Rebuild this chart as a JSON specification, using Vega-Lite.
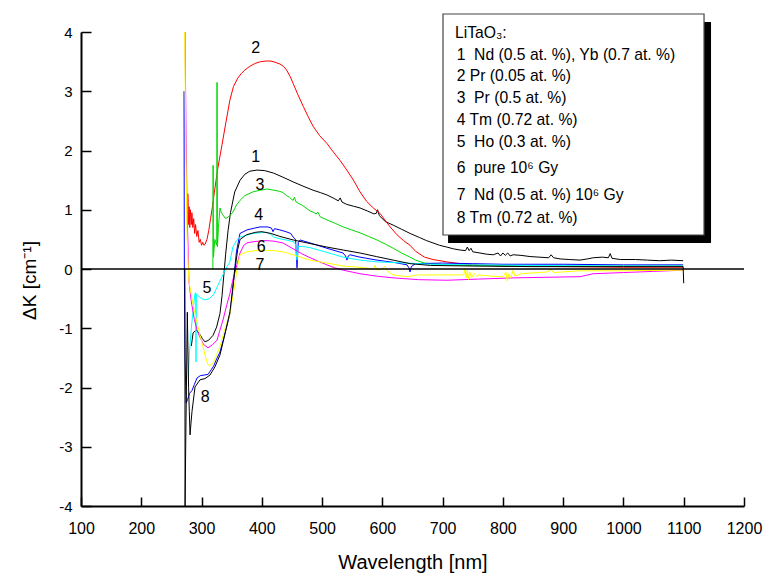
{
 "$schema": "https://vega.github.io/schema/vega-lite/v6.json",
 "width": 663, "height": 474,
 "autosize": {"type": "none"},
 "padding": {"left": 81, "top": 32, "right": 19, "bottom": 68},
 "background": "white",
 "config": {"view": {"stroke": null}, "font": "Liberation Sans"},
 "datasets": {
  "curves": [
   {"s":"1","wl":283,"dk":-1.3},{"s":"1","wl":286,"dk":-1.08},{"s":"1","wl":290.8,"dk":-1.03},{"s":"1","wl":296,"dk":-1.08},{"s":"1","wl":301,"dk":-1.17},{"s":"1","wl":305.7,"dk":-1.23},{"s":"1","wl":312,"dk":-1.2},{"s":"1","wl":319,"dk":-1.12},{"s":"1","wl":325,"dk":-0.98},{"s":"1","wl":330.6,"dk":-0.75},{"s":"1","wl":334,"dk":-0.45},{"s":"1","wl":337,"dk":-0.1},{"s":"1","wl":340,"dk":0.25},{"s":"1","wl":344,"dk":0.65},{"s":"1","wl":348,"dk":0.95},{"s":"1","wl":355,"dk":1.3},{"s":"1","wl":364,"dk":1.5},{"s":"1","wl":372,"dk":1.6},{"s":"1","wl":380,"dk":1.65},{"s":"1","wl":392,"dk":1.67},{"s":"1","wl":405,"dk":1.66},{"s":"1","wl":419,"dk":1.62},{"s":"1","wl":435,"dk":1.55},{"s":"1","wl":452,"dk":1.47},{"s":"1","wl":468,"dk":1.4},{"s":"1","wl":485,"dk":1.33},{"s":"1","wl":497,"dk":1.29},{"s":"1","wl":508,"dk":1.25},{"s":"1","wl":520,"dk":1.19},{"s":"1","wl":527,"dk":1.15},{"s":"1","wl":530,"dk":1.2},{"s":"1","wl":533,"dk":1.13},{"s":"1","wl":541,"dk":1.09},{"s":"1","wl":552,"dk":1.06},{"s":"1","wl":563,"dk":1.03},{"s":"1","wl":575,"dk":0.98},{"s":"1","wl":586,"dk":0.93},{"s":"1","wl":590,"dk":0.94},{"s":"1","wl":592,"dk":1.0},{"s":"1","wl":595,"dk":0.9},{"s":"1","wl":605,"dk":0.8},{"s":"1","wl":618,"dk":0.74},{"s":"1","wl":632,"dk":0.67},{"s":"1","wl":646,"dk":0.6},{"s":"1","wl":662,"dk":0.53},{"s":"1","wl":673,"dk":0.48},{"s":"1","wl":684,"dk":0.44},{"s":"1","wl":695,"dk":0.4},{"s":"1","wl":707,"dk":0.37},{"s":"1","wl":718,"dk":0.34},{"s":"1","wl":729,"dk":0.32},{"s":"1","wl":738,"dk":0.31},{"s":"1","wl":741,"dk":0.37},{"s":"1","wl":744,"dk":0.31},{"s":"1","wl":747,"dk":0.35},{"s":"1","wl":750,"dk":0.29},{"s":"1","wl":762,"dk":0.27},{"s":"1","wl":773,"dk":0.25},{"s":"1","wl":784,"dk":0.24},{"s":"1","wl":792,"dk":0.27},{"s":"1","wl":796,"dk":0.22},{"s":"1","wl":800,"dk":0.27},{"s":"1","wl":804,"dk":0.23},{"s":"1","wl":808,"dk":0.27},{"s":"1","wl":812,"dk":0.22},{"s":"1","wl":817,"dk":0.24},{"s":"1","wl":830,"dk":0.23},{"s":"1","wl":845,"dk":0.21},{"s":"1","wl":860,"dk":0.2},{"s":"1","wl":876,"dk":0.19},{"s":"1","wl":880,"dk":0.24},{"s":"1","wl":884,"dk":0.19},{"s":"1","wl":895,"dk":0.17},{"s":"1","wl":910,"dk":0.16},{"s":"1","wl":928,"dk":0.15},{"s":"1","wl":940,"dk":0.17},{"s":"1","wl":950,"dk":0.19},{"s":"1","wl":965,"dk":0.2},{"s":"1","wl":975,"dk":0.19},{"s":"1","wl":978,"dk":0.26},{"s":"1","wl":981,"dk":0.18},{"s":"1","wl":995,"dk":0.16},{"s":"1","wl":1020,"dk":0.16},{"s":"1","wl":1040,"dk":0.15},{"s":"1","wl":1060,"dk":0.14},{"s":"1","wl":1080,"dk":0.15},{"s":"1","wl":1099,"dk":0.14},

   {"s":"2","wl":277.5,"dk":1.27},{"s":"2","wl":278.5,"dk":0.75},{"s":"2","wl":279.5,"dk":1.05},{"s":"2","wl":280.5,"dk":0.7},{"s":"2","wl":281.5,"dk":1.0},{"s":"2","wl":283,"dk":0.75},{"s":"2","wl":284,"dk":0.95},{"s":"2","wl":285.5,"dk":0.7},{"s":"2","wl":287,"dk":0.85},{"s":"2","wl":288.5,"dk":0.6},{"s":"2","wl":290,"dk":0.75},{"s":"2","wl":292,"dk":0.55},{"s":"2","wl":294,"dk":0.65},{"s":"2","wl":296,"dk":0.45},{"s":"2","wl":298,"dk":0.5},{"s":"2","wl":300,"dk":0.4},{"s":"2","wl":302,"dk":0.45},{"s":"2","wl":304,"dk":0.4},{"s":"2","wl":306,"dk":0.42},{"s":"2","wl":309,"dk":0.5},{"s":"2","wl":312,"dk":0.65},{"s":"2","wl":315,"dk":0.85},{"s":"2","wl":318,"dk":1.05},{"s":"2","wl":322,"dk":1.35},{"s":"2","wl":327,"dk":1.7},{"s":"2","wl":334,"dk":2.1},{"s":"2","wl":340,"dk":2.45},{"s":"2","wl":347,"dk":2.85},{"s":"2","wl":353,"dk":3.08},{"s":"2","wl":360,"dk":3.22},{"s":"2","wl":366,"dk":3.3},{"s":"2","wl":372,"dk":3.36},{"s":"2","wl":380,"dk":3.42},{"s":"2","wl":389,"dk":3.47},{"s":"2","wl":398,"dk":3.5},{"s":"2","wl":407,"dk":3.51},{"s":"2","wl":415,"dk":3.51},{"s":"2","wl":422,"dk":3.49},{"s":"2","wl":430,"dk":3.46},{"s":"2","wl":436,"dk":3.42},{"s":"2","wl":441,"dk":3.36},{"s":"2","wl":447,"dk":3.25},{"s":"2","wl":452,"dk":3.13},{"s":"2","wl":460,"dk":2.94},{"s":"2","wl":469,"dk":2.74},{"s":"2","wl":477,"dk":2.57},{"s":"2","wl":485,"dk":2.41},{"s":"2","wl":496,"dk":2.25},{"s":"2","wl":508,"dk":2.12},{"s":"2","wl":516,"dk":2.01},{"s":"2","wl":530,"dk":1.83},{"s":"2","wl":541,"dk":1.67},{"s":"2","wl":552,"dk":1.5},{"s":"2","wl":563,"dk":1.3},{"s":"2","wl":574,"dk":1.14},{"s":"2","wl":585,"dk":1.03},{"s":"2","wl":596,"dk":0.94},{"s":"2","wl":604,"dk":0.83},{"s":"2","wl":613,"dk":0.71},{"s":"2","wl":624,"dk":0.58},{"s":"2","wl":635,"dk":0.48},{"s":"2","wl":646,"dk":0.4},{"s":"2","wl":655,"dk":0.3},{"s":"2","wl":670,"dk":0.2},{"s":"2","wl":684,"dk":0.16},{"s":"2","wl":707,"dk":0.12},{"s":"2","wl":729,"dk":0.09},{"s":"2","wl":750,"dk":0.07},{"s":"2","wl":800,"dk":0.05},{"s":"2","wl":900,"dk":0.04},{"s":"2","wl":1000,"dk":0.03},{"s":"2","wl":1099,"dk":0.03},

   {"s":"3","wl":318.8,"dk":0.0},{"s":"3","wl":319.2,"dk":1.75},{"s":"3","wl":319.8,"dk":0.2},{"s":"3","wl":322,"dk":0.5},{"s":"3","wl":325.2,"dk":0.4},{"s":"3","wl":325.7,"dk":3.15},{"s":"3","wl":326.4,"dk":0.37},{"s":"3","wl":328,"dk":0.7},{"s":"3","wl":330.6,"dk":1.03},{"s":"3","wl":333,"dk":0.95},{"s":"3","wl":335.6,"dk":0.91},{"s":"3","wl":339,"dk":0.86},{"s":"3","wl":342,"dk":0.86},{"s":"3","wl":347,"dk":0.9},{"s":"3","wl":352,"dk":0.96},{"s":"3","wl":358,"dk":1.08},{"s":"3","wl":364,"dk":1.16},{"s":"3","wl":372,"dk":1.24},{"s":"3","wl":385,"dk":1.3},{"s":"3","wl":397,"dk":1.33},{"s":"3","wl":409,"dk":1.35},{"s":"3","wl":420,"dk":1.33},{"s":"3","wl":430,"dk":1.31},{"s":"3","wl":435,"dk":1.29},{"s":"3","wl":441,"dk":1.24},{"s":"3","wl":446,"dk":1.21},{"s":"3","wl":450,"dk":1.17},{"s":"3","wl":452,"dk":1.16},{"s":"3","wl":454,"dk":1.21},{"s":"3","wl":457,"dk":1.13},{"s":"3","wl":468,"dk":1.07},{"s":"3","wl":480,"dk":0.98},{"s":"3","wl":485,"dk":0.96},{"s":"3","wl":490,"dk":0.93},{"s":"3","wl":493,"dk":0.96},{"s":"3","wl":497,"dk":0.88},{"s":"3","wl":510,"dk":0.82},{"s":"3","wl":522,"dk":0.77},{"s":"3","wl":535,"dk":0.71},{"s":"3","wl":549,"dk":0.66},{"s":"3","wl":563,"dk":0.61},{"s":"3","wl":577,"dk":0.55},{"s":"3","wl":591,"dk":0.49},{"s":"3","wl":605,"dk":0.42},{"s":"3","wl":618,"dk":0.35},{"s":"3","wl":632,"dk":0.27},{"s":"3","wl":646,"dk":0.2},{"s":"3","wl":655,"dk":0.15},{"s":"3","wl":670,"dk":0.1},{"s":"3","wl":707,"dk":0.07},{"s":"3","wl":750,"dk":0.06},{"s":"3","wl":850,"dk":0.05},{"s":"3","wl":1000,"dk":0.05},{"s":"3","wl":1099,"dk":0.05},

   {"s":"4","wl":270.9,"dk":3.0},{"s":"4","wl":271.5,"dk":0.0},{"s":"4","wl":272.6,"dk":-1.5},{"s":"4","wl":274.5,"dk":-2.26},{"s":"4","wl":277,"dk":-2.2},{"s":"4","wl":280,"dk":-2.1},{"s":"4","wl":284.2,"dk":-2.05},{"s":"4","wl":288,"dk":-1.95},{"s":"4","wl":292.5,"dk":-1.84},{"s":"4","wl":298,"dk":-1.8},{"s":"4","wl":304,"dk":-1.79},{"s":"4","wl":310.7,"dk":-1.78},{"s":"4","wl":316,"dk":-1.7},{"s":"4","wl":320,"dk":-1.64},{"s":"4","wl":325,"dk":-1.52},{"s":"4","wl":330.6,"dk":-1.4},{"s":"4","wl":336,"dk":-1.2},{"s":"4","wl":341,"dk":-1.0},{"s":"4","wl":347.2,"dk":-0.75},{"s":"4","wl":351,"dk":-0.4},{"s":"4","wl":355,"dk":0.0},{"s":"4","wl":358,"dk":0.3},{"s":"4","wl":363.8,"dk":0.6},{"s":"4","wl":375.4,"dk":0.66},{"s":"4","wl":388,"dk":0.69},{"s":"4","wl":397,"dk":0.71},{"s":"4","wl":410,"dk":0.71},{"s":"4","wl":416,"dk":0.69},{"s":"4","wl":418.6,"dk":0.63},{"s":"4","wl":421,"dk":0.68},{"s":"4","wl":430,"dk":0.66},{"s":"4","wl":440,"dk":0.63},{"s":"4","wl":448,"dk":0.6},{"s":"4","wl":451.8,"dk":0.54},{"s":"4","wl":456,"dk":0.5},{"s":"4","wl":458.4,"dk":0.02},{"s":"4","wl":460.5,"dk":0.45},{"s":"4","wl":463.4,"dk":0.49},{"s":"4","wl":480,"dk":0.44},{"s":"4","wl":508,"dk":0.35},{"s":"4","wl":534.7,"dk":0.27},{"s":"4","wl":539,"dk":0.22},{"s":"4","wl":541.3,"dk":0.15},{"s":"4","wl":543.5,"dk":0.22},{"s":"4","wl":546.3,"dk":0.24},{"s":"4","wl":562.9,"dk":0.2},{"s":"4","wl":591.1,"dk":0.15},{"s":"4","wl":620,"dk":0.11},{"s":"4","wl":640.9,"dk":0.07},{"s":"4","wl":644,"dk":0.02},{"s":"4","wl":645.9,"dk":-0.05},{"s":"4","wl":648,"dk":0.04},{"s":"4","wl":655,"dk":0.09},{"s":"4","wl":700,"dk":0.1},{"s":"4","wl":750,"dk":0.09},{"s":"4","wl":800,"dk":0.08},{"s":"4","wl":900,"dk":0.08},{"s":"4","wl":1000,"dk":0.07},{"s":"4","wl":1099,"dk":0.07},

   {"s":"5","wl":278,"dk":-1.84},{"s":"5","wl":280,"dk":-1.4},{"s":"5","wl":283,"dk":-1.0},{"s":"5","wl":286,"dk":-0.7},{"s":"5","wl":289,"dk":-0.42},{"s":"5","wl":290.3,"dk":-0.4},{"s":"5","wl":290.8,"dk":-1.57},{"s":"5","wl":291.4,"dk":-0.42},{"s":"5","wl":294,"dk":-0.45},{"s":"5","wl":300,"dk":-0.5},{"s":"5","wl":306,"dk":-0.52},{"s":"5","wl":313,"dk":-0.5},{"s":"5","wl":320,"dk":-0.43},{"s":"5","wl":326,"dk":-0.3},{"s":"5","wl":333,"dk":-0.15},{"s":"5","wl":340,"dk":0.0},{"s":"5","wl":347,"dk":0.12},{"s":"5","wl":352,"dk":0.37},{"s":"5","wl":358,"dk":0.48},{"s":"5","wl":364,"dk":0.54},{"s":"5","wl":385,"dk":0.6},{"s":"5","wl":408,"dk":0.62},{"s":"5","wl":416,"dk":0.58},{"s":"5","wl":419,"dk":0.54},{"s":"5","wl":430,"dk":0.51},{"s":"5","wl":445,"dk":0.48},{"s":"5","wl":452,"dk":0.46},{"s":"5","wl":456,"dk":0.42},{"s":"5","wl":458.4,"dk":0.15},{"s":"5","wl":460,"dk":0.38},{"s":"5","wl":468,"dk":0.38},{"s":"5","wl":480,"dk":0.36},{"s":"5","wl":508,"dk":0.28},{"s":"5","wl":535,"dk":0.2},{"s":"5","wl":563,"dk":0.15},{"s":"5","wl":591,"dk":0.12},{"s":"5","wl":641,"dk":0.1},{"s":"5","wl":680,"dk":0.08},{"s":"5","wl":750,"dk":0.07},{"s":"5","wl":850,"dk":0.06},{"s":"5","wl":1000,"dk":0.05},{"s":"5","wl":1099,"dk":0.05},

   {"s":"6","wl":272.6,"dk":4.0},{"s":"6","wl":274,"dk":2.5},{"s":"6","wl":276,"dk":1.0},{"s":"6","wl":279,"dk":-0.2},{"s":"6","wl":283,"dk":-0.55},{"s":"6","wl":288,"dk":-0.85},{"s":"6","wl":293,"dk":-1.05},{"s":"6","wl":297.4,"dk":-1.15},{"s":"6","wl":303,"dk":-1.27},{"s":"6","wl":310.7,"dk":-1.33},{"s":"6","wl":318,"dk":-1.28},{"s":"6","wl":325.7,"dk":-1.2},{"s":"6","wl":330,"dk":-1.05},{"s":"6","wl":335.6,"dk":-0.86},{"s":"6","wl":342,"dk":-0.6},{"s":"6","wl":347.2,"dk":-0.41},{"s":"6","wl":352,"dk":-0.18},{"s":"6","wl":357,"dk":0.0},{"s":"6","wl":363.8,"dk":0.27},{"s":"6","wl":370,"dk":0.4},{"s":"6","wl":375.4,"dk":0.44},{"s":"6","wl":385.4,"dk":0.46},{"s":"6","wl":405,"dk":0.48},{"s":"6","wl":420,"dk":0.47},{"s":"6","wl":435,"dk":0.44},{"s":"6","wl":452,"dk":0.34},{"s":"6","wl":466,"dk":0.26},{"s":"6","wl":480,"dk":0.19},{"s":"6","wl":494,"dk":0.13},{"s":"6","wl":508,"dk":0.07},{"s":"6","wl":521,"dk":0.02},{"s":"6","wl":535,"dk":-0.02},{"s":"6","wl":563,"dk":-0.08},{"s":"6","wl":590,"dk":-0.12},{"s":"6","wl":618,"dk":-0.15},{"s":"6","wl":660,"dk":-0.18},{"s":"6","wl":707,"dk":-0.19},{"s":"6","wl":760,"dk":-0.17},{"s":"6","wl":817,"dk":-0.15},{"s":"6","wl":870,"dk":-0.14},{"s":"6","wl":928,"dk":-0.13},{"s":"6","wl":949.5,"dk":-0.08},{"s":"6","wl":1000,"dk":-0.06},{"s":"6","wl":1050,"dk":-0.04},{"s":"6","wl":1099,"dk":-0.02},

   {"s":"7","wl":272,"dk":4.0},{"s":"7","wl":274,"dk":2.0},{"s":"7","wl":276,"dk":0.5},{"s":"7","wl":279,"dk":-0.2},{"s":"7","wl":284,"dk":-0.5},{"s":"7","wl":289,"dk":-0.75},{"s":"7","wl":292.5,"dk":-0.91},{"s":"7","wl":297,"dk":-1.1},{"s":"7","wl":302.4,"dk":-1.31},{"s":"7","wl":307,"dk":-1.5},{"s":"7","wl":310.7,"dk":-1.62},{"s":"7","wl":315,"dk":-1.62},{"s":"7","wl":319,"dk":-1.59},{"s":"7","wl":325,"dk":-1.45},{"s":"7","wl":330.6,"dk":-1.31},{"s":"7","wl":339,"dk":-1.0},{"s":"7","wl":347.2,"dk":-0.75},{"s":"7","wl":353,"dk":-0.4},{"s":"7","wl":358.8,"dk":0.0},{"s":"7","wl":363.8,"dk":0.24},{"s":"7","wl":375.4,"dk":0.29},{"s":"7","wl":397,"dk":0.32},{"s":"7","wl":420,"dk":0.31},{"s":"7","wl":435,"dk":0.29},{"s":"7","wl":452,"dk":0.24},{"s":"7","wl":458,"dk":0.22},{"s":"7","wl":480,"dk":0.15},{"s":"7","wl":508,"dk":0.1},{"s":"7","wl":534.7,"dk":0.05},{"s":"7","wl":562.9,"dk":0.03},{"s":"7","wl":585,"dk":0.0},{"s":"7","wl":588,"dk":0.06},{"s":"7","wl":591,"dk":-0.02},{"s":"7","wl":600,"dk":0.0},{"s":"7","wl":604,"dk":0.05},{"s":"7","wl":608,"dk":-0.03},{"s":"7","wl":617.7,"dk":-0.1},{"s":"7","wl":640.9,"dk":-0.13},{"s":"7","wl":660,"dk":-0.1},{"s":"7","wl":700,"dk":-0.1},{"s":"7","wl":735,"dk":-0.1},{"s":"7","wl":737,"dk":0.0},{"s":"7","wl":739,"dk":-0.15},{"s":"7","wl":741,"dk":-0.02},{"s":"7","wl":743,"dk":-0.18},{"s":"7","wl":745,"dk":-0.05},{"s":"7","wl":748,"dk":-0.15},{"s":"7","wl":752,"dk":-0.07},{"s":"7","wl":757,"dk":-0.13},{"s":"7","wl":760,"dk":-0.1},{"s":"7","wl":780,"dk":-0.12},{"s":"7","wl":800,"dk":-0.13},{"s":"7","wl":805,"dk":-0.05},{"s":"7","wl":807,"dk":-0.2},{"s":"7","wl":810,"dk":-0.08},{"s":"7","wl":813,"dk":-0.15},{"s":"7","wl":817,"dk":-0.02},{"s":"7","wl":820,"dk":-0.12},{"s":"7","wl":830,"dk":-0.08},{"s":"7","wl":873.2,"dk":-0.05},{"s":"7","wl":880,"dk":-0.01},{"s":"7","wl":884,"dk":-0.06},{"s":"7","wl":927.9,"dk":-0.03},{"s":"7","wl":1000,"dk":-0.03},{"s":"7","wl":1099,"dk":-0.02},

   {"s":"8","wl":272.3,"dk":0.0},{"s":"8","wl":272.7,"dk":-4.0},{"s":"8","wl":273.7,"dk":-3.0},{"s":"8","wl":276.4,"dk":-0.73},{"s":"8","wl":278.5,"dk":-2.0},{"s":"8","wl":279.7,"dk":-2.4},{"s":"8","wl":280.9,"dk":-2.8},{"s":"8","wl":282.5,"dk":-2.6},{"s":"8","wl":284.2,"dk":-2.4},{"s":"8","wl":289.2,"dk":-1.99},{"s":"8","wl":297.4,"dk":-1.87},{"s":"8","wl":305.7,"dk":-1.85},{"s":"8","wl":314,"dk":-1.79},{"s":"8","wl":322.3,"dk":-1.65},{"s":"8","wl":330.6,"dk":-1.45},{"s":"8","wl":336,"dk":-1.22},{"s":"8","wl":341,"dk":-1.0},{"s":"8","wl":347.2,"dk":-0.72},{"s":"8","wl":351,"dk":-0.4},{"s":"8","wl":355.5,"dk":0.0},{"s":"8","wl":360,"dk":0.33},{"s":"8","wl":364,"dk":0.5},{"s":"8","wl":375,"dk":0.58},{"s":"8","wl":390,"dk":0.62},{"s":"8","wl":400,"dk":0.63},{"s":"8","wl":415,"dk":0.6},{"s":"8","wl":430,"dk":0.55},{"s":"8","wl":452,"dk":0.49},{"s":"8","wl":480,"dk":0.43},{"s":"8","wl":508,"dk":0.37},{"s":"8","wl":535,"dk":0.32},{"s":"8","wl":563,"dk":0.27},{"s":"8","wl":590,"dk":0.21},{"s":"8","wl":618,"dk":0.15},{"s":"8","wl":646,"dk":0.09},{"s":"8","wl":680,"dk":0.06},{"s":"8","wl":750,"dk":0.05},{"s":"8","wl":850,"dk":0.04},{"s":"8","wl":1000,"dk":0.04},{"s":"8","wl":1099,"dk":0.04},{"s":"8","wl":1100,"dk":-0.24}
  ],
  "labels": [
   {"t":"1","wl":390,"dk":1.89},{"t":"2","wl":390,"dk":3.73},{"t":"3","wl":397,"dk":1.42},{"t":"4","wl":395,"dk":0.91},{"t":"5","wl":309,"dk":-0.32},{"t":"6","wl":399,"dk":0.37},{"t":"7","wl":397,"dk":0.07},{"t":"8","wl":306,"dk":-2.16}
  ],
  "legend": [
   {"t":"LiTaO₃:","wl":720.5,"dk":3.98},
   {"t":"1\u00a0\u00a0Nd (0.5 at. %), Yb (0.7 at. %)","wl":723.3,"dk":3.61},
   {"t":"2 Pr (0.05 at. %)","wl":723.3,"dk":3.25},
   {"t":"3\u00a0\u00a0Pr (0.5 at. %)","wl":723.3,"dk":2.88},
   {"t":"4 Tm (0.72 at. %)","wl":723.3,"dk":2.51},
   {"t":"5\u00a0\u00a0Ho (0.3 at. %)","wl":723.3,"dk":2.15},
   {"t":"6\u00a0\u00a0pure 10⁶ Gy","wl":723.3,"dk":1.7},
   {"t":"7\u00a0\u00a0Nd (0.5 at. %) 10⁶ Gy","wl":723.3,"dk":1.25},
   {"t":"8 Tm (0.72 at. %)","wl":723.3,"dk":0.86}
  ],
  "one": [{}]
 },
 "layer": [
  {
   "data": {"name": "curves"},
   "mark": {"type": "line", "strokeWidth": 1},
   "encoding": {
    "x": {"field": "wl", "type": "quantitative",
     "scale": {"domain": [100, 1200], "nice": false, "zero": false},
     "axis": {
      "values": [100,150,200,250,300,350,400,450,500,550,600,650,700,750,800,850,900,950,1000,1050,1100,1150,1200],
      "labelExpr": "datum.value % 100 === 0 ? '' + datum.value : ''",
      "tickSize": {"condition": {"test": "datum.value % 100 === 0", "value": -9}, "value": -5},
      "labelPadding": 23, "labelFontSize": 16, "labelColor": "black", "labelFlush": false, "labelOverlap": false,
      "grid": false, "domainColor": "black", "domainWidth": 2, "tickColor": "black", "tickWidth": 1.5,
      "title": "Wavelength [nm]", "titleFontSize": 20, "titleFontWeight": "normal", "titleColor": "black",
      "titleBaseline": "alphabetic", "titleY": 62
     }},
    "y": {"field": "dk", "type": "quantitative",
     "scale": {"domain": [-4, 4], "nice": false, "zero": false},
     "axis": {
      "values": [-4,-3.5,-3,-2.5,-2,-1.5,-1,-0.5,0,0.5,1,1.5,2,2.5,3,3.5,4],
      "labelExpr": "datum.value % 1 === 0 ? '' + datum.value : ''",
      "tickSize": {"condition": {"test": "datum.value % 1 === 0", "value": -10}, "value": -6},
      "labelPadding": 19, "labelFontSize": 15, "labelColor": "black", "labelFlush": false, "labelOverlap": false,
      "grid": false, "domainColor": "black", "domainWidth": 2, "tickColor": "black", "tickWidth": 1.5,
      "title": "ΔK [cm⁻¹]", "titleFontSize": 19, "titleFontWeight": "normal", "titleColor": "black",
      "titleBaseline": "alphabetic", "titleX": -46, "titleY": 248
     }},
    "color": {"field": "s", "type": "nominal", "legend": null,
     "scale": {"domain": ["1","2","3","4","5","6","7","8"],
      "range": ["#000000","#ff0000","#00d800","#0000ff","#00ffff","#ff00ff","#ffff00","#000000"]}}
   }
  },
  {
   "data": {"name": "one"},
   "mark": {"type": "rule", "color": "black", "strokeWidth": 1.5},
   "encoding": {"y": {"datum": 0, "type": "quantitative"}}
  },
  {
   "data": {"name": "one"},
   "mark": {"type": "rect", "color": "black"},
   "encoding": {
    "x": {"datum": 709, "type": "quantitative"},
    "x2": {"datum": 1145.3},
    "y": {"datum": 4.169, "type": "quantitative"},
    "y2": {"datum": 0.439}
   }
  },
  {
   "data": {"name": "one"},
   "mark": {"type": "rect", "fill": "white", "stroke": "#444444", "strokeWidth": 1.2},
   "encoding": {
    "x": {"datum": 700.6, "type": "quantitative"},
    "x2": {"datum": 1133.7},
    "y": {"datum": 4.304, "type": "quantitative"},
    "y2": {"datum": 0.574}
   }
  },
  {
   "data": {"name": "legend"},
   "mark": {"type": "text", "align": "left", "baseline": "middle", "fontSize": 15.7, "color": "black"},
   "encoding": {
    "x": {"field": "wl", "type": "quantitative"},
    "y": {"field": "dk", "type": "quantitative"},
    "text": {"field": "t"}
   }
  },
  {
   "data": {"name": "labels"},
   "mark": {"type": "text", "align": "center", "baseline": "middle", "fontSize": 16, "color": "black"},
   "encoding": {
    "x": {"field": "wl", "type": "quantitative"},
    "y": {"field": "dk", "type": "quantitative"},
    "text": {"field": "t"}
   }
  }
 ]
}
